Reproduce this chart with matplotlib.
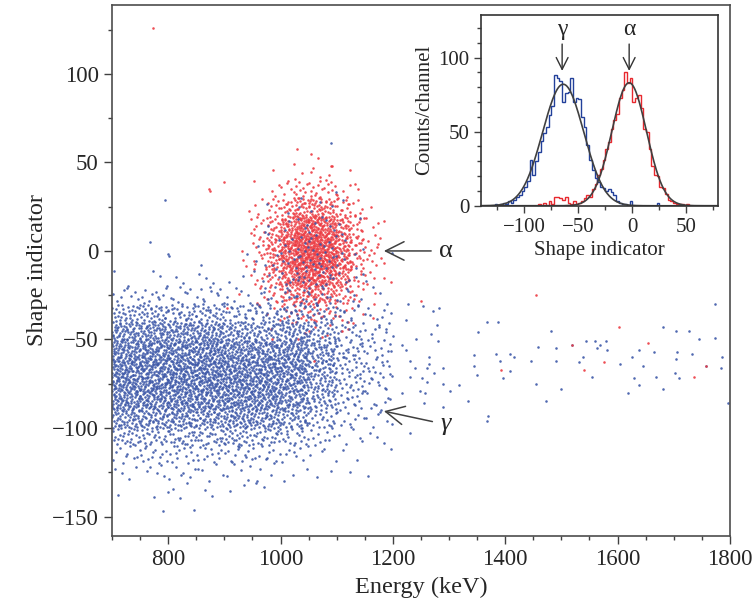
import matplotlib.pyplot as plt
import numpy as np
from matplotlib.ticker import MultipleLocator

plt.rcParams['font.family'] = ['Liberation Serif', 'DejaVu Serif']

BLUE_PT = '#3d58a8'
RED_PT = '#ec3b42'
BLUE_H = '#22409a'
RED_H = '#e8282e'

# gamma events, counts per cell: energy columns 50 keV wide,
# shape rows 10 wide, listed from [-10, 0) down to [-150, -140)
gamma_e_lo = [700, 750, 800, 850, 900, 950, 1000, 1050, 1100, 1150]
gamma_counts = [
    [0, 2, 8, 30, 55, 70, 80, 80, 70, 50, 25, 10, 4, 1, 0],
    [0, 3, 10, 32, 58, 72, 82, 80, 70, 48, 25, 12, 5, 2, 0],
    [1, 2, 8, 28, 55, 72, 82, 82, 72, 52, 28, 12, 6, 3, 1],
    [0, 3, 10, 30, 58, 75, 85, 82, 70, 50, 25, 12, 5, 2, 0],
    [1, 2, 6, 22, 45, 65, 78, 80, 72, 55, 30, 12, 5, 2, 0],
    [1, 2, 6, 20, 40, 62, 75, 75, 70, 50, 25, 10, 4, 1, 0],
    [2, 3, 8, 22, 45, 65, 70, 65, 55, 38, 18, 8, 2, 1, 0],
    [3, 3, 5, 15, 30, 42, 45, 40, 32, 20, 10, 4, 2, 0, 0],
    [2, 2, 4, 10, 16, 20, 20, 18, 14, 9, 5, 2, 1, 0, 0],
    [1, 1, 3, 6, 10, 12, 12, 10, 8, 6, 3, 1, 1, 0, 0],
]

# alpha region grid: energy columns 25 keV wide from 925 keV,
# shape rows 10 wide listed from [50, 60) down to [-50, -40)
alpha_e_lo = [925, 950, 975, 1000, 1025, 1050, 1075, 1100, 1125, 1150, 1175]
alpha_s_lo = [50, 40, 30, 20, 10, 0, -10, -20, -30, -40, -50]
alpha_counts = [
    [0, 0, 0, 0, 1, 1, 0, 0, 0, 0, 0],
    [0, 0, 1, 1, 2, 3, 2, 1, 0, 0, 0],
    [0, 1, 3, 6, 9, 10, 8, 4, 2, 0, 0],
    [1, 3, 8, 16, 24, 26, 20, 12, 5, 1, 0],
    [1, 6, 15, 32, 46, 50, 40, 24, 10, 3, 1],
    [2, 8, 22, 44, 62, 66, 54, 32, 14, 5, 1],
    [2, 7, 21, 44, 63, 66, 55, 33, 13, 5, 1],
    [1, 6, 15, 31, 46, 49, 40, 24, 9, 3, 1],
    [1, 3, 8, 16, 24, 27, 21, 12, 5, 1, 0],
    [0, 1, 3, 6, 9, 10, 8, 4, 2, 1, 0],
    [0, 0, 1, 1, 2, 3, 2, 1, 1, 0, 0],
]
# gamma events lying inside the alpha cluster (same grid)
gamma_in_alpha = [
    [0, 0, 0, 0, 0, 0, 0, 0, 0, 0, 0],
    [0, 0, 0, 0, 0, 0, 0, 0, 0, 0, 0],
    [0, 0, 0, 0, 1, 0, 1, 0, 0, 0, 0],
    [0, 0, 1, 1, 1, 2, 1, 1, 0, 0, 0],
    [0, 1, 1, 2, 3, 3, 3, 1, 1, 0, 0],
    [0, 1, 2, 3, 4, 5, 4, 2, 1, 0, 0],
    [0, 1, 2, 3, 5, 5, 4, 2, 1, 0, 0],
    [0, 1, 2, 3, 4, 4, 3, 2, 1, 0, 0],
    [0, 1, 1, 2, 3, 3, 2, 1, 1, 0, 0],
    [0, 0, 1, 1, 2, 2, 1, 1, 0, 0, 0],
    [0, 0, 0, 0, 0, 0, 0, 0, 0, 0, 0],
]

gamma_extra_e = [795, 768, 800, 1090, 790, 956, 859,
                 1227, 1253, 1271, 1283, 1223, 1279, 1267, 1281, 1242, 1217,
                 1224, 1230, 1265, 1264, 1240, 1260, 1290, 1273, 1231, 1252,
                 1261, 1289, 1301, 1248, 1258, 1217, 1255, 1289, 1230, 1345,
                 1349, 1344, 1317, 1333, 1352, 1367, 1387, 1383, 1390, 1408,
                 1416, 1396, 1408, 1370, 1367, 1445, 1458, 1455, 1473, 1482,
                 1490, 1491, 1499, 1518, 1531, 1539, 1543, 1559, 1563, 1569,
                 1579, 1582, 1555, 1605, 1618, 1626, 1630, 1638, 1638, 1646,
                 1664, 1669, 1680, 1680, 1704, 1704, 1705, 1702, 1710, 1728,
                 1732, 1745, 1773, 1774, 1784, 1786, 1797, 1758]
gamma_extra_s = [29, 5, -2, 61, -147, -131, -8,
                 -30, -31, -34, -32, -39, -42, -47, -51, -50, -53,
                 -56, -62, -60, -64, -66, -66, -66, -69, -71, -72,
                 -74, -75, -79, -79, -80, -80, -86, -88, -103, -59,
                 -70, -65, -76, -85, -46, -40, -40, -58, -62, -58,
                 -60, -72, -68, -93, -96, -62, -54, -75, -85, -45,
                 -55, -62, -78, -53, -63, -60, -51, -51, -55, -53,
                 -51, -56, -71, -64, -80, -60, -72, -76, -56, -65,
                 -57, -71, -43, -78, -45, -61, -57, -69, -72, -45,
                 -58, -50, -49, -30, -66, -60, -86, -65]

# single alpha events away from the cluster
alpha_extra_e = [773, 873, 900, 875, 1054, 1090, 1178, 1184, 1166, 1250,
                 1454, 1603, 1655, 1575, 1393, 1541, 1736, 1757, 1518,
                 985, 1060, 905, 1110]
alpha_extra_s = [126, 35, 39, 34, 55, 48, -4, -15, -30, -28,
                 -25, -43, -52, -63, -67, -67, -71, -65, -53,
                 -50, -62, -32, -45]

# inset: shape indicator histograms, 2.5 wide channels
bin_width = 2.5
gamma_hist_lo = -130
gamma_hist = [0, 1, 0, 1, 2, 1, 3, 2, 4, 6, 7, 10, 13, 17, 31, 21, 30, 36,
              44, 49, 53, 61, 67, 88, 86, 84, 70, 76, 77, 86, 70, 73, 72, 60,
              53, 41, 31, 24, 19, 16, 13, 12, 10, 11, 9, 7, 3, 2, 1, 1, 0, 3,
              0, 0, 0, 0, 0, 0, 0, 0, 0, 2, 0, 0, 0, 0, 0, 0, 0, 0, 0, 0, 0,
              0, 0, 0, 0, 0, 0, 0, 0, 0, 0, 0]
alpha_hist_lo = -87.5
alpha_hist = [1, 0, 2, 0, 3, 1, 6, 6, 5, 4, 6, 2, 1, 3, 1, 2, 3, 5, 7, 6, 11,
              15, 21, 25, 31, 38, 43, 52, 58, 62, 73, 78, 90, 83, 86, 70, 73,
              75, 66, 52, 50, 38, 27, 21, 20, 13, 12, 8, 4, 3, 2, 1, 1, 1, 0,
              1, 0, 0]
# gaussian fits: peak, centre, sigma
gamma_fit = (82, -64, 19)
alpha_fit = (83, -3, 16)


def halton(i, base):
    f, r = 1.0, 0.0
    while i > 0:
        f /= base
        r += f * (i % base)
        i //= base
    return r


def fill_cells(cells, start):
    # cells: (x0, y0, dx, dy, n); spread n events evenly inside each cell
    xs, ys = [], []
    k = start
    for x0, y0, dx, dy, n in cells:
        for _ in range(n):
            k += 1
            xs.append(x0 + dx * halton(k, 2))
            ys.append(y0 + dy * halton(k, 3))
    return xs, ys


gamma_cells = []
for e0, col in zip(gamma_e_lo, gamma_counts):
    for j, n in enumerate(col):
        gamma_cells.append((e0, -10 * (j + 1), 50, 10, n))
alpha_cells, gia_cells = [], []
for s0, row, row_g in zip(alpha_s_lo, alpha_counts, gamma_in_alpha):
    for e0, n, ng in zip(alpha_e_lo, row, row_g):
        alpha_cells.append((e0, s0, 25, 10, n))
        gia_cells.append((e0, s0, 25, 10, ng))

gx, gy = fill_cells(gamma_cells, 7)
ax_, ay_ = fill_cells(alpha_cells, 20011)
gx2, gy2 = fill_cells(gia_cells, 40013)

fig = plt.figure(figsize=(7.54, 6.07), dpi=100)
ax = fig.add_axes([0.1485, 0.117, 0.8196, 0.875])

dot = dict(s=3.4, linewidths=0)
ax.scatter(ax_, ay_, color=RED_PT, alpha=0.9, **dot)
ax.scatter(gx, gy, color=BLUE_PT, alpha=0.9, **dot)
ax.scatter(gx2, gy2, color=BLUE_PT, alpha=0.9, **dot)
ax.scatter(gamma_extra_e, gamma_extra_s, color=BLUE_PT, alpha=0.9, **dot)
ax.scatter(alpha_extra_e, alpha_extra_s, color=RED_PT, alpha=0.9, **dot)

ax.set_xlim(700, 1800)
ax.set_ylim(-161, 139)
ax.xaxis.set_major_locator(MultipleLocator(200))
ax.xaxis.set_minor_locator(MultipleLocator(50))
ax.yaxis.set_major_locator(MultipleLocator(50))
ax.yaxis.set_minor_locator(MultipleLocator(25))
ax.tick_params(which='both', direction='out', labelsize=16.5, color='0.25',
               labelcolor='0.15')
ax.tick_params(which='major', length=6, width=1)
ax.tick_params(which='minor', length=3, width=1)
for sp in ax.spines.values():
    sp.set_color('0.3')
    sp.set_linewidth(1.2)
ax.set_xlabel('Energy (keV)', fontsize=17.5, color='0.15', labelpad=5)
ax.set_ylabel('Shape indicator', fontsize=17.5, color='0.15', labelpad=3)

arrow = dict(arrowstyle='->,head_length=0.7,head_width=0.35', color='0.25',
             lw=1.1, shrinkA=4, shrinkB=0)
ax.annotate('α', xy=(1184, 0), xytext=(1283, 0), arrowprops=arrow,
            ha='left', va='center', fontsize=19, color='0.15')
ax.annotate('γ', xy=(1184, -90.5), xytext=(1285, -98), arrowprops=arrow,
            ha='left', va='center', fontsize=19, color='0.15',
            style='italic')

# inset
axin = fig.add_axes([0.638, 0.661, 0.314, 0.315])
g_edges = gamma_hist_lo + bin_width * np.arange(len(gamma_hist) + 1)
a_edges = alpha_hist_lo + bin_width * np.arange(len(alpha_hist) + 1)
axin.stairs(alpha_hist, a_edges, color=RED_H, lw=1.0)
axin.stairs(gamma_hist, g_edges, color=BLUE_H, lw=1.0)
axin.plot([-140, gamma_hist_lo], [0, 0], color=BLUE_H, lw=1.0)

xs = np.linspace(-140, 80, 400)
for amp, mu, sig in (gamma_fit, alpha_fit):
    axin.plot(xs, amp * np.exp(-0.5 * ((xs - mu) / sig) ** 2),
              color='0.25', lw=1.2)

iarrow = dict(arrowstyle='->,head_length=0.5,head_width=0.25', color='0.2',
              lw=1.0, shrinkA=1, shrinkB=0)
axin.annotate('γ', xy=(-65, 91), xytext=(-65, 119), arrowprops=iarrow,
              ha='center', va='center', fontsize=17, color='0.15')
axin.annotate('α', xy=(-3, 91), xytext=(-3, 119), arrowprops=iarrow,
              ha='center', va='center', fontsize=17, color='0.15')

axin.set_xlim(-140, 79)
axin.set_ylim(0, 129)
axin.xaxis.set_major_locator(MultipleLocator(50))
axin.xaxis.set_minor_locator(MultipleLocator(25))
axin.yaxis.set_major_locator(MultipleLocator(50))
axin.yaxis.set_minor_locator(MultipleLocator(10))
axin.tick_params(which='both', direction='out', labelsize=15, color='0.25',
                 labelcolor='0.15')
axin.tick_params(which='major', length=5, width=1)
axin.tick_params(which='minor', length=3, width=1)
for sp in axin.spines.values():
    sp.set_color('0.2')
    sp.set_linewidth(1.2)
axin.set_xlabel('Shape indicator', fontsize=15, color='0.15', labelpad=3)
axin.set_ylabel('Counts/channel', fontsize=15, color='0.15', labelpad=3)

fig.savefig('out.png', dpi=100)
